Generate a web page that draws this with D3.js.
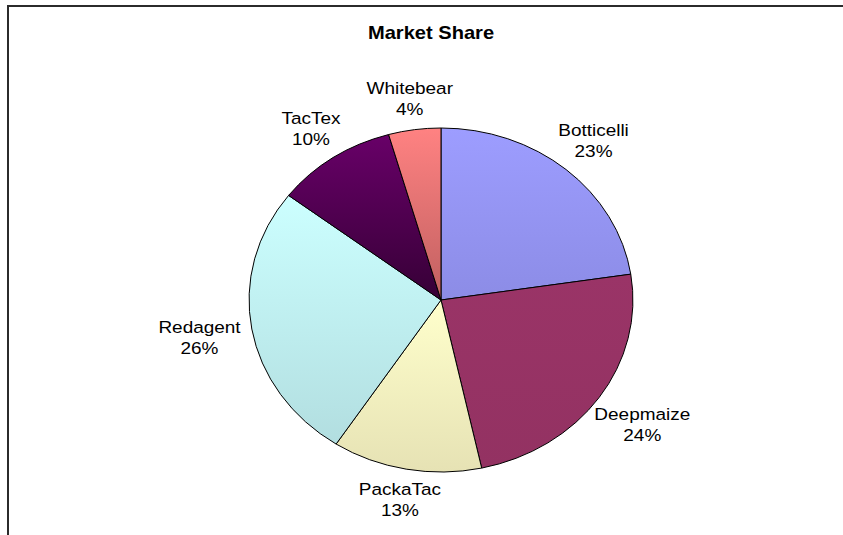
<!DOCTYPE html>
<html>
<head>
<meta charset="utf-8">
<style>
  body { margin: 0; background: #fff; }
  text { font-family: Arial, "Liberation Sans", sans-serif; fill: #000; }
</style>
</head>
<body>
<svg width="843" height="535"></svg>
<script src="https://cdnjs.cloudflare.com/ajax/libs/d3/7.8.5/d3.min.js"></script>
<script>

var title = "Market Share";
var companies = ["Botticelli", "Deepmaize", "PackaTac", "Redagent", "TacTex", "Whitebear"];
var shares = [22.6, 24.0, 12.6, 26.2, 10.2, 4.4];
var topColors = ["#9d9dff", "#9a3467", "#ffffcc", "#ccffff", "#680068", "#ff8282"];
var bottomColors = ["#8c8ce6", "#933262", "#e6e2b4", "#b2dee0", "#360036", "#c06060"];

var svg = d3.select("svg"),
    cx = 441, cy = 300,
    R = 172,          // vertical radius
    sx = 1.116,       // the picture is stretched sideways
    fontSize = 17,
    lineGap = 21;

var data = companies.map(function(c, i) { return {name: c, value: shares[i], i: i}; });
var total = d3.sum(shares);

// border (top + left only)
svg.append("path")
    .attr("d", "M8,535V6H843")
    .attr("fill", "none")
    .attr("stroke", "#2b2b2b")
    .attr("stroke-width", 2);

svg.append("text")
    .attr("transform", "translate(431,39) scale(" + sx + ",1)")
    .attr("text-anchor", "middle")
    .style("font-size", "18px")
    .style("font-weight", "bold")
    .text(title);

var defs = svg.append("defs");
data.forEach(function(d) {
  var g = defs.append("linearGradient")
      .attr("id", "grad" + d.i)
      .attr("x1", 0).attr("y1", 0).attr("x2", 0).attr("y2", 1);
  g.append("stop").attr("offset", "0%").attr("stop-color", topColors[d.i]);
  g.append("stop").attr("offset", "100%").attr("stop-color", bottomColors[d.i]);
});

var pie = d3.pie().sort(null).value(function(d) { return d.value; });
var arc = d3.arc().innerRadius(0).outerRadius(R);
var arcs = pie(data);

var pieG = svg.append("g")
    .attr("transform", "translate(" + cx + "," + cy + ") scale(" + sx + ",1)");

pieG.selectAll("path")
    .data(arcs)
  .enter().append("path")
    .attr("d", arc)
    .attr("fill", function(d) { return "url(#grad" + d.data.i + ")"; })
    .attr("stroke", "#000")
    .attr("stroke-width", 1)
    .attr("vector-effect", "non-scaling-stroke");

// labels, placed just outside the pie along the mid angle
var labels = svg.append("g").selectAll("g")
    .data(arcs)
  .enter().append("g");

labels.append("text")
    .attr("text-anchor", "middle")
    .attr("y", -lineGap / 2 + 6)
    .style("font-size", fontSize + "px")
    .text(function(d) { return d.data.name; });
labels.append("text")
    .attr("text-anchor", "middle")
    .attr("y", lineGap / 2 + 6)
    .style("font-size", fontSize + "px")
    .text(function(d) { return Math.round(d.data.value / total * 100) + "%"; });

labels.attr("transform", function(d) {
  var hw = this.getBBox().width / 2, hh = lineGap;
  var a = (d.startAngle + d.endAngle) / 2;
  var s = Math.sin(a), c = Math.cos(a);
  var ext = Math.min(Math.abs(s) > 1e-6 ? hw / Math.abs(s) : 1e9,
                     Math.abs(c) > 1e-6 ? hh / Math.abs(c) : 1e9);
  var r = R + 10 + ext;
  var x = cx + r * s * sx, y = cy - r * c;
  return "translate(" + x + "," + y + ") scale(" + sx + ",1)";
});

</script>
</body>
</html>
